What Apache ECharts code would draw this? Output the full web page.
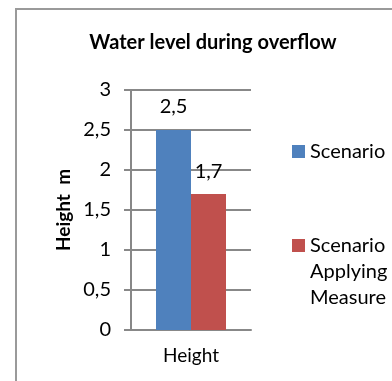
<!DOCTYPE html>
<html><head><meta charset="utf-8">
<script src="https://cdn.jsdelivr.net/npm/echarts@6/dist/echarts.min.js"></script>
<style>html,body{margin:0;padding:0;background:#fff}#c{width:392px;height:381px}</style>
</head><body><div id="c"></div>
<script>
const categories = ['Height'];
const seriesNames = ['Scenario', 'Scenario Applying Measure'];
const scenarioValues = [2.5];
const measureValues = [1.7];
const yTicks = [0, 0.5, 1, 1.5, 2, 2.5, 3];

const FONT = 'Lato';
const fmt = v => String(v).replace('.', ',');
const chart = echarts.init(document.getElementById('c'), null, {renderer: 'canvas'});
chart.setOption({
  animation: false,
  backgroundColor: '#fff',
  textStyle: {fontFamily: FONT},
  title: {
    text: 'Water level during overflow',
    left: 213, top: 33, textAlign: 'center', padding: 0,
    textStyle: {fontFamily: FONT, fontSize: 20, fontWeight: 'bold', color: '#000'}
  },
  graphic: [{
    type: 'rect', silent: true,
    shape: {x: 16, y: 9, width: 420, height: 420},
    style: {fill: 'none', stroke: '#9a9a9a', lineWidth: 2}
  }],
  legend: [{
    data: [seriesNames[0]],
    orient: 'vertical', left: 292, top: 138.5, padding: 0,
    itemWidth: 13, itemHeight: 13, icon: 'rect', itemGap: 0,
    textStyle: {fontFamily: FONT, fontSize: 20, color: '#000', lineHeight: 26}
  }, {
    data: [seriesNames[1]],
    orient: 'vertical', left: 292, top: 180.5, padding: 0,
    itemWidth: 13, itemHeight: 13, icon: 'rect', itemGap: 0,
    formatter: n => ' \n \n' + n.split(' ').join('\n'),
    textStyle: {fontFamily: FONT, fontSize: 20, color: '#000', lineHeight: 26}
  }],
  grid: {left: 131, right: 141, top: 90, bottom: 51},
  xAxis: {
    type: 'category', data: categories,
    axisLine: {lineStyle: {color: '#888', width: 2}},
    axisTick: {length: 6, lineStyle: {color: '#888', width: 2}},
    axisLabel: {fontFamily: FONT, fontSize: 19, color: '#000', margin: 16}
  },
  yAxis: {
    type: 'value', min: yTicks[0], max: yTicks[yTicks.length - 1], interval: 0.5,
    name: 'Height  m', nameLocation: 'middle', nameGap: 58, nameRotate: 90,
    nameTextStyle: {fontFamily: FONT, fontSize: 19, fontWeight: 'bold', color: '#000'},
    axisLine: {show: true, lineStyle: {color: '#888', width: 2}},
    axisTick: {show: true, length: 7, lineStyle: {color: '#888', width: 2}},
    splitLine: {lineStyle: {color: '#888', width: 2}},
    axisLabel: {fontFamily: FONT, fontSize: 20, color: '#000', margin: 20, formatter: fmt}
  },
  series: [{
    name: seriesNames[0], type: 'bar', data: scenarioValues,
    barWidth: 35, barGap: '0%',
    itemStyle: {color: '#4F81BD'},
    label: {show: true, position: 'top', distance: 13, fontFamily: FONT, fontSize: 20, color: '#000', formatter: p => fmt(p.value)}
  }, {
    name: seriesNames[1], type: 'bar', data: measureValues,
    barWidth: 35, barGap: '0%',
    itemStyle: {color: '#C0504D'},
    label: {show: true, position: 'top', distance: 12, fontFamily: FONT, fontSize: 20, color: '#000', formatter: p => fmt(p.value)}
  }]
});
</script></body></html>
